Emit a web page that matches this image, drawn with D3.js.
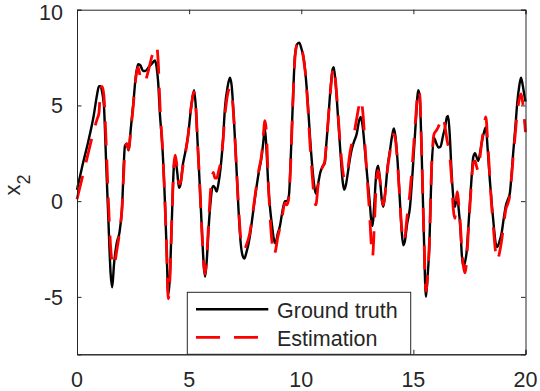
<!DOCTYPE html>
<html><head><meta charset="utf-8">
<script src="https://cdn.jsdelivr.net/npm/d3@7"></script>
<style>body{margin:0;background:#fff}svg{display:block}text{font-family:"Liberation Sans",Arial,sans-serif;fill:#262626}</style>
</head><body>
<script>
const tVals = [0.00,0.25,0.50,0.75,0.90,0.98,1.05,1.12,1.20,1.30,1.40,1.50,1.57,1.65,1.77,1.90,2.00,2.14,2.22,2.30,2.40,2.51,2.62,2.72,2.82,2.95,3.05,3.20,3.35,3.48,3.55,3.62,3.70,3.80,3.92,4.00,4.07,4.13,4.22,4.32,4.38,4.47,4.55,4.62,4.72,4.82,4.95,5.10,5.22,5.30,5.38,5.48,5.58,5.65,5.71,5.78,5.88,5.96,6.03,6.08,6.15,6.23,6.32,6.40,6.50,6.60,6.72,6.82,6.90,7.00,7.10,7.20,7.30,7.40,7.46,7.55,7.70,7.85,8.00,8.12,8.23,8.30,8.38,8.45,8.53,8.62,8.70,8.78,8.85,8.95,9.05,9.15,9.27,9.36,9.45,9.54,9.62,9.72,9.82,9.91,10.00,10.13,10.20,10.30,10.40,10.50,10.58,10.65,10.75,10.85,10.95,11.05,11.12,11.20,11.30,11.40,11.45,11.55,11.65,11.75,11.85,11.92,12.00,12.08,12.17,12.25,12.35,12.47,12.58,12.65,12.75,12.85,12.95,13.05,13.12,13.18,13.25,13.35,13.43,13.52,13.60,13.66,13.75,13.85,13.95,14.05,14.13,14.20,14.30,14.40,14.48,14.55,14.62,14.72,14.85,14.97,15.10,15.22,15.28,15.37,15.47,15.56,15.63,15.71,15.81,15.92,16.03,16.12,16.21,16.32,16.41,16.50,16.55,16.62,16.70,16.78,16.85,16.92,16.96,17.02,17.10,17.16,17.22,17.30,17.37,17.45,17.52,17.60,17.67,17.75,17.82,17.89,17.97,18.04,18.15,18.23,18.32,18.41,18.50,18.59,18.67,18.74,18.84,18.93,19.03,19.13,19.22,19.30,19.38,19.45,19.55,19.63,19.72,19.80,19.87,19.94,20.00];
const groundTruth = [0.6,1.9,3.1,4.5,5.6,6.0,6.0,5.7,5.0,2.0,-1.0,-3.8,-4.5,-3.3,-2.2,-1.6,-0.5,2.9,3.0,2.65,3.8,5.1,6.5,7.15,7.1,6.8,6.8,7.0,7.2,7.35,7.0,6.2,4.5,3.0,0.0,-2.7,-4.9,-4.2,-1.3,1.8,2.2,1.5,0.7,0.9,1.9,2.5,3.4,5.0,5.8,4.9,3.0,0.7,-1.8,-3.3,-3.95,-3.2,-1.2,0.0,0.7,0.8,0.7,0.5,1.0,1.7,3.0,4.9,6.0,6.45,6.0,4.2,2.0,-0.4,-2.2,-2.9,-3.0,-2.7,-1.9,-0.6,0.7,1.6,2.3,3.0,3.8,2.7,0.8,-0.5,-1.3,-2.0,-2.2,-1.7,-1.3,-0.6,0.0,0.0,0.3,2.5,5.0,7.6,8.2,8.28,8.0,7.3,6.5,5.0,3.2,1.7,0.8,0.4,0.9,1.5,1.8,2.0,3.0,4.2,5.8,6.9,7.0,5.9,4.2,2.5,1.0,0.6,0.9,1.5,2.2,2.7,3.1,3.5,4.2,4.4,3.8,2.5,1.2,0.0,-1.0,-1.3,-0.3,1.5,1.85,1.0,0.0,-0.3,0.5,1.8,2.6,3.4,3.8,3.4,2.0,0.0,-1.6,-2.3,-2.1,-1.2,-0.3,1.6,4.0,5.8,5.5,2.5,-1.9,-5.0,-4.0,-2.4,1.6,3.3,3.0,2.8,2.85,3.4,3.85,4.4,4.45,3.5,1.6,0.2,-0.3,0.1,0.2,-0.4,-1.5,-2.8,-3.4,-3.2,-2.7,-1.4,-0.1,1.3,2.3,2.5,2.3,2.1,2.5,3.0,3.6,3.85,2.6,1.1,-0.2,-1.35,-2.2,-2.4,-2.1,-1.7,-0.9,-0.2,0.1,0.4,1.4,2.5,3.9,5.1,6.0,6.45,6.1,5.6,5.2];
const estimation = [0.1,1.3,2.5,3.7,4.3,4.6,5.9,6.0,5.5,3.0,0.0,-2.4,-3.2,-3.4,-2.6,-1.6,-0.5,2.6,3.0,2.7,3.7,5.0,6.4,7.0,6.5,6.2,6.3,6.9,7.6,8.0,8.1,7.3,5.0,3.0,0.0,-2.6,-5.1,-4.4,-1.3,1.9,2.4,1.7,0.9,1.0,1.8,2.4,3.4,5.0,5.7,4.9,3.0,0.7,-1.8,-3.3,-3.8,-3.0,-0.9,0.6,1.3,1.5,1.2,1.2,1.6,2.0,3.0,4.5,5.6,5.9,5.6,4.2,2.0,-0.2,-1.9,-2.5,-2.5,-2.3,-1.7,-0.5,0.8,1.7,2.4,3.3,4.2,3.5,1.0,-1.0,-2.2,-2.8,-2.6,-1.9,-1.4,-0.8,-0.1,-0.2,0.2,2.3,4.9,7.5,8.2,8.3,8.1,7.2,6.5,4.8,2.8,1.2,0.1,-0.2,0.8,1.5,1.8,2.1,3.0,4.2,5.7,6.8,7.0,6.0,4.4,2.8,1.6,1.2,1.2,1.7,2.5,3.0,3.5,4.3,5.0,5.3,4.6,2.8,1.0,-0.7,-2.2,-2.9,-1.5,1.0,1.6,1.0,0.1,-0.2,0.5,1.7,2.5,3.3,3.5,3.2,1.9,0.0,-1.4,-2.1,-1.9,-0.8,0.5,2.2,4.3,5.8,5.6,2.6,-1.8,-4.7,-3.9,-2.3,1.7,3.5,3.7,3.9,4.2,4.4,3.9,3.2,2.9,2.4,1.2,-0.4,-0.9,0.2,0.5,-0.1,-1.3,-2.5,-3.3,-3.75,-3.2,-1.6,-0.3,1.1,2.0,2.1,1.8,1.6,2.3,3.0,3.9,4.4,3.0,1.2,-0.4,-1.7,-2.7,-3.1,-2.7,-2.1,-1.2,-0.4,-0.1,0.3,1.3,2.3,3.6,4.6,5.3,5.6,5.2,4.4,3.6];
const xTicks = [0,5,10,15,20];
const yTicks = [-5,0,5,10];
const legendLabels = ["Ground truth","Estimation"];

const W = 540, H = 391;
const svg = d3.select("body").append("svg").attr("width", W).attr("height", H);
const x = d3.scaleLinear().domain([0,20]).range([77,525.5]);
const y = d3.scaleLinear().domain([-8,10]).range([354.3,9.7]);
const fs = 21.5, ink = "#262626";

const line = (vals) => d3.line().x((d,i)=>x(tVals[i])).y(d=>y(d)).curve(d3.curveMonotoneX)(vals);

svg.append("path").attr("d", line(groundTruth)).attr("fill","none").attr("stroke","#000").attr("stroke-width",2.4);
svg.append("path").attr("d", line(estimation)).attr("fill","none").attr("stroke","#ff0000").attr("stroke-width",2.8).attr("stroke-dasharray","24,14");

const tl = 4.5;
const axB = d3.axisBottom(x).tickValues(xTicks).tickSize(-tl).tickFormat("");
const axT = d3.axisTop(x).tickValues(xTicks).tickSize(-tl).tickFormat("");
const axL = d3.axisLeft(y).tickValues(yTicks).tickSize(-tl).tickFormat("");
const axR = d3.axisRight(y).tickValues(yTicks).tickSize(-tl).tickFormat("");
[[axB,`translate(0,${y(-8)})`],[axT,`translate(0,${y(10)})`],[axL,`translate(${x(0)},0)`],[axR,`translate(${x(20)},0)`]].forEach(([a,t])=>{
  const g = svg.append("g").attr("transform",t).call(a);
  g.selectAll("path").attr("stroke",ink).attr("stroke-width",1);
  g.selectAll("line").attr("stroke",ink).attr("stroke-width",1);
});

svg.append("g").selectAll("text").data(xTicks).join("text")
  .attr("x",d=>x(d)).attr("y",386.5).attr("text-anchor","middle").attr("font-size",fs).text(d=>d);
svg.append("g").selectAll("text").data(yTicks).join("text")
  .attr("x",63).attr("y",d=>Math.max(y(d)+7.7, 19.5)).attr("text-anchor","end").attr("font-size",fs).text(d=>d);

const yl = svg.append("text").attr("transform","translate(20,185) rotate(-90)").attr("text-anchor","middle").attr("font-size",22);
yl.append("tspan").text("x");
yl.append("tspan").attr("font-size",18).attr("dy",10).text("2");

const lg = svg.append("g");
lg.append("rect").attr("x",187.3).attr("y",292.3).attr("width",223.4).attr("height",62).attr("fill","#fff").attr("stroke",ink).attr("stroke-width",1);
lg.append("line").attr("x1",196).attr("x2",268.3).attr("y1",309.3).attr("y2",309.3).attr("stroke","#000").attr("stroke-width",2.4);
lg.append("line").attr("x1",196).attr("x2",268.3).attr("y1",337.3).attr("y2",337.3).attr("stroke","#ff0000").attr("stroke-width",2.8).attr("stroke-dasharray","24,14");
lg.selectAll("text.l").data(legendLabels).join("text").attr("class","l")
  .attr("x",277).attr("y",(d,i)=>i===0?317.5:345.5).attr("font-size",fs).text(d=>d);
svg.append("line").attr("x1",x(0)).attr("x2",x(20)).attr("y1",y(-8)+0.5).attr("y2",y(-8)+0.5).attr("stroke",ink).attr("stroke-width",1);
</script>
</body></html>
